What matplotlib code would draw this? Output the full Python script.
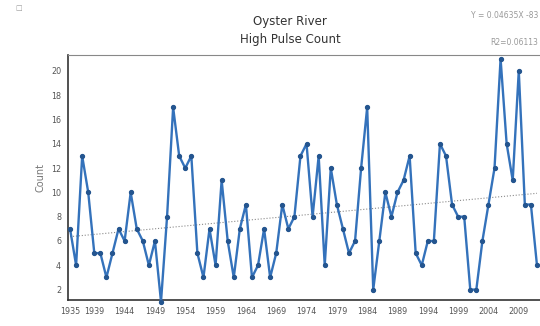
import numpy as np
import matplotlib.pyplot as plt

years = list(range(1935, 2013))
counts = [7, 4, 13, 10, 5, 5, 3, 5, 7, 6,
          10, 7, 6, 4, 6, 1, 8, 17, 13, 12,
          13, 5, 3, 7, 4, 11, 6, 3, 7, 9,
          3, 4, 7, 3, 5, 9, 7, 8, 13, 14,
          8, 13, 4, 12, 9, 7, 5, 6, 12, 17,
          2, 6, 10, 8, 10, 11, 13, 5, 4, 6,
          6, 14, 13, 9, 8, 8, 2, 2, 6, 9,
          12, 21, 14, 11, 20, 9, 9, 4]
tick_years = [1935, 1939, 1944, 1949, 1954, 1959, 1964, 1969, 1974,
              1979, 1984, 1989, 1994, 1999, 2004, 2009]
eq_text = 'Y = 0.04635X -83'
r2_text = 'R2=0.06113'

x = np.array(years)
y = np.array(counts)

fig = plt.figure(figsize=(5.4, 3.26), dpi=100)
ax = fig.add_axes([0.126, 0.080, 0.874, 0.751])

# trend line (dotted)
p = np.polyfit(x, y, 1)
ax.plot([x[0], x[-1]], np.polyval(p, [x[0], x[-1]]), ':', color='#8a8a8a', lw=0.8)

ax.plot(x, y, '-o', color='#3472bb', lw=1.7, ms=2.8,
        markerfacecolor='#24558f', markeredgecolor='#24558f', clip_on=False, zorder=3)

ax.set_xlim(1934.67, 2012.5)
ax.set_ylim(1.15, 21.3)
ax.set_xticks(tick_years)
ax.set_xticklabels([str(t) for t in tick_years], fontsize=5.8, color='#555555')
ax.set_yticks(range(2, 21, 2))
ax.set_yticklabels([str(t) for t in range(2, 21, 2)], fontsize=5.8, color='#555555')
ax.tick_params(length=0, pad=5)
ax.set_ylabel('Count', fontsize=7, color='#777777', labelpad=4)

for s in ['left', 'bottom']:
    ax.spines[s].set_color('#333333')
    ax.spines[s].set_linewidth(1.2)
ax.spines['top'].set_color('#888888')
ax.spines['top'].set_linewidth(0.8)
ax.spines['right'].set_visible(False)

fig.text(0.537, 0.935, 'Oyster River', ha='center', va='center', fontsize=8.5, color='#333333')
fig.text(0.537, 0.878, 'High Pulse Count', ha='center', va='center', fontsize=8.5, color='#333333')
fig.text(0.997, 0.953, eq_text, ha='right', va='center', fontsize=5.5, color='#999999')
fig.text(0.997, 0.870, r2_text, ha='right', va='center', fontsize=5.5, color='#999999')
fig.text(0.035, 0.985, '\u25a1', ha='center', va='top', fontsize=5, color='#999999')

fig.savefig('out.png', dpi=100)
